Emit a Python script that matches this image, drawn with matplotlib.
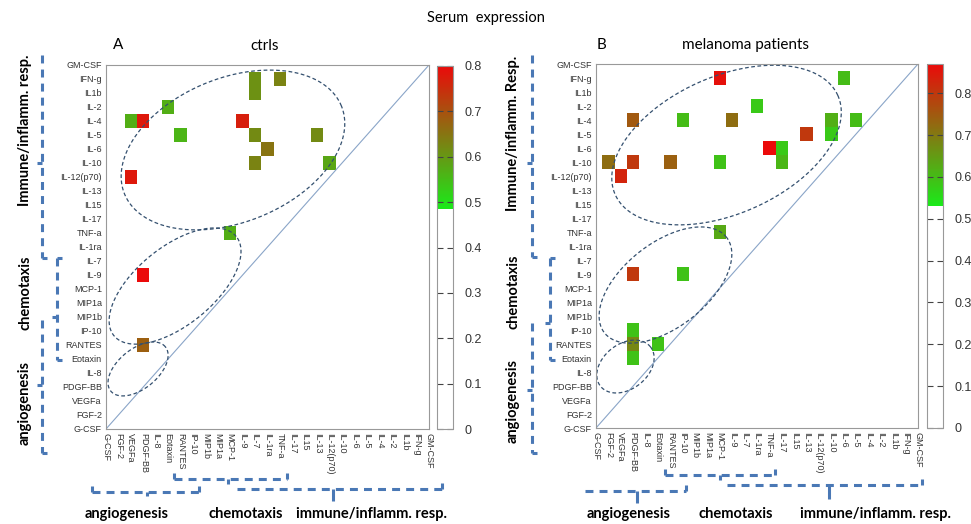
import numpy as np
import matplotlib
matplotlib.use('Agg')
import matplotlib.pyplot as plt
from matplotlib.colors import ListedColormap
from matplotlib.lines import Line2D

plt.rcParams['font.family'] = ['Liberation Sans', 'DejaVu Sans']

cytokines = ['G-CSF', 'FGF-2', 'VEGFa', 'PDGF-BB', 'IL-8', 'Eotaxin', 'RANTES', 'IP-10',
             'MIP1b', 'MIP1a', 'MCP-1', 'IL-9', 'IL-7', 'IL-1ra', 'TNF-a', 'IL-17', 'IL15',
             'IL-13', 'IL-12(p70)', 'IL-10', 'IL-6', 'IL-5', 'IL-4', 'IL-2', 'IL1b', 'IFN-g',
             'GM-CSF']

# significant correlations, controls: row cytokine, column cytokine, r
ctrl_rows = ['IFN-g', 'IL1b', 'IFN-g', 'IL-2', 'IL-4', 'IL-4', 'IL-4', 'IL-5', 'IL-5', 'IL-5',
             'IL-6', 'IL-10', 'IL-10', 'IL-12(p70)', 'TNF-a', 'IL-9', 'RANTES']
ctrl_cols = ['IL-7', 'IL-7', 'TNF-a', 'Eotaxin', 'VEGFa', 'PDGF-BB', 'IL-9', 'RANTES', 'IL-7',
             'IL-13', 'IL-1ra', 'IL-7', 'IL-12(p70)', 'VEGFa', 'MCP-1', 'PDGF-BB', 'PDGF-BB']
ctrl_r = [0.61, 0.61, 0.63, 0.57, 0.57, 0.78, 0.77, 0.56, 0.62, 0.62, 0.65, 0.63, 0.58,
          0.78, 0.57, 0.80, 0.68]

# melanoma patients
mel_rows = ['IFN-g', 'IFN-g', 'IL-2', 'IL-4', 'IL-4', 'IL-4', 'IL-4', 'IL-4', 'IL-5', 'IL-5',
            'IL-6', 'IL-6', 'IL-10', 'IL-10', 'IL-10', 'IL-10', 'IL-10', 'IL-12(p70)', 'TNF-a',
            'IL-9', 'IL-9', 'IP-10', 'RANTES', 'Eotaxin', 'RANTES']
mel_cols = ['MCP-1', 'IL-6', 'IL-1ra', 'PDGF-BB', 'IP-10', 'IL-9', 'IL-10', 'IL-5', 'IL-13',
            'IL-10', 'TNF-a', 'IL-17', 'IL-17', 'FGF-2', 'PDGF-BB', 'RANTES', 'MCP-1', 'VEGFa',
            'MCP-1', 'PDGF-BB', 'IP-10', 'PDGF-BB', 'PDGF-BB', 'PDGF-BB', 'Eotaxin']
mel_r = [0.86, 0.60, 0.58, 0.75, 0.60, 0.72, 0.62, 0.60, 0.80, 0.58, 0.88, 0.58, 0.61, 0.72,
         0.80, 0.74, 0.59, 0.83, 0.63, 0.80, 0.59, 0.59, 0.68, 0.59, 0.59]

W, H = 971, 524
fig = plt.figure(figsize=(W / 100, H / 100), dpi=100)


def fx(x):
    return x / W


def fy(y):
    return 1 - y / H


def make_cmap(thr, vmax):
    v = np.linspace(0, vmax, 512)
    f = np.clip((v - thr) / (vmax - thr), 0, 1)
    green = np.array([0.10, 0.92, 0.10])
    red = np.array([0.92, 0.04, 0.04])
    cols = green[None, :] * (1 - f[:, None]) + red[None, :] * f[:, None]
    cols[v < thr] = 1.0
    return ListedColormap(cols)


def ellipse(ax, cx, cy, a, b, ang, k):
    t = np.linspace(0, 2 * np.pi, 300)
    th = np.radians(ang)
    u = a * np.cos(t) * np.cos(th) - b * np.sin(t) * np.sin(th)
    v = a * np.cos(t) * np.sin(th) + b * np.sin(t) * np.cos(th)
    ax.plot(cx + u, cy + v * k, color='#34506f', lw=0.9, ls=(0, (3, 2)), clip_on=False)


def panel(rect, crect, rows, cols, vals, thr, vmax, ells):
    ax = fig.add_axes(rect)
    n = len(cytokines)
    M = np.zeros((n, n))
    for r, c, v in zip(rows, cols, vals):
        M[cytokines.index(r), cytokines.index(c)] = v
    edges = np.arange(n + 1) - 0.5
    mesh = ax.pcolormesh(edges, edges, M, cmap=make_cmap(thr, vmax), vmin=0, vmax=vmax)
    ax.plot([0, n - 1], [0, n - 1], color='#8aa5c8', lw=0.8)
    ax.set_xlim(0, n - 1)
    ax.set_ylim(0, n - 1)
    ax.set_xticks(range(n))
    ax.set_yticks(range(n))
    ax.set_xticklabels(cytokines, rotation=270, fontsize=6.5, color='#333333', va='top')
    ax.set_yticklabels(cytokines, fontsize=6.5, color='#333333')
    ax.tick_params(length=0, pad=3)
    for s in ax.spines.values():
        s.set_color('#999999')
    fig.canvas.draw()
    bb = ax.get_window_extent()
    k = bb.width / bb.height
    for e in ells:
        ellipse(ax, *e, k)

    cax = fig.add_axes(crect)
    cb = fig.colorbar(mesh, cax=cax, ticks=np.arange(0, 0.81, 0.1))
    cb.ax.set_yticklabels(['0' if t == 0 else f'{t:.1f}' for t in np.arange(0, 0.81, 0.1)])
    cb.outline.set_edgecolor('#999999')
    cax.tick_params(direction='in', left=True, right=True, length=4, width=0.8,
                    color='#444444', labelsize=9, labelcolor='#333333', pad=8)
    return ax


panel([fx(106), fy(429), 323 / W, 364 / H], [fx(437), fy(429), 16 / W, 363 / H],
      ctrl_rows, ctrl_cols, ctrl_r, 0.485, 0.80,
      [(10.22, 19.93, 9.42, 5.8, 22), (5.56, 10.21, 6.34, 3.14, 39), (2.58, 4.29, 2.83, 1.6, 39)])
panel([fx(596), fy(428), 322 / W, 364 / H], [fx(927), fy(428), 16 / W, 364 / H],
      mel_rows, mel_cols, mel_r, 0.53, 0.87,
      [(10.54, 20.21, 9.84, 5.53, 24), (5.61, 10.21, 6.26, 3.4, 38), (2.38, 4.39, 2.57, 1.82, 38)])

# titles
fig.text(fx(486), fy(18), 'Serum  expression', fontsize=10.5, ha='center', va='center',
         family=['Lato', 'DejaVu Sans'])
fig.text(fx(118), fy(45), 'A', fontsize=11, ha='center', va='center', family=['Lato', 'DejaVu Sans'])
fig.text(fx(265), fy(46), 'ctrls', fontsize=11, ha='center', va='center', family=['Lato', 'DejaVu Sans'])
fig.text(fx(601), fy(45), 'B', fontsize=11, ha='center', va='center', family=['Lato', 'DejaVu Sans'])
fig.text(fx(745), fy(45), 'melanoma patients', fontsize=11, ha='center', va='center',
         family=['Lato', 'DejaVu Sans'])

BLUE = '#4a78b5'
DASH = (0, (2.6, 2.0))


def seg(x0, y0, x1, y1, ls='-'):
    fig.add_artist(Line2D([fx(x0), fx(x1)], [fy(y0), fy(y1)], transform=fig.transFigure,
                          color=BLUE, lw=2.2, ls=ls, solid_capstyle='butt'))


def vbracket(x, y0, y1, ym, top=False, bot=True):
    seg(x, y0, x, y1, DASH)
    if top:
        seg(x, y0, x + 5, y0)
    if bot:
        seg(x, y1, x + 5, y1)
    seg(x, ym, x - 5, ym)


def hbracket(y, x0, x1, xm, stem, left=False):
    seg(x0, y, x1, y, DASH)
    if left:
        seg(x0, y, x0, y - 6)
    seg(x1, y, x1, y - 6)
    seg(xm, y, xm, y + stem)


def label(x, y, s, rot=0):
    fig.text(fx(x), fy(y), s, fontsize=10.5, fontweight='bold', rotation=rot, ha='center',
             va='center', family=['Lato', 'DejaVu Sans'])


# side brackets and group names
vbracket(42, 55, 258, 163)
vbracket(57, 258, 360, 317, top=True)
vbracket(42, 320, 453, 385)
label(25, 130, 'Immune/inflamm. resp.', 90)
label(25, 293, 'chemotaxis', 90)
label(25, 403, 'angiogenesis', 90)

vbracket(532, 55, 257, 163)
vbracket(550, 258, 360, 323, top=True)
vbracket(532, 323, 453, 390)
label(513, 133, 'Immune/inflamm. Resp.', 90)
label(513, 292, 'chemotaxis', 90)
label(513, 401, 'angiogenesis', 90)

# bottom brackets and group names
hbracket(479, 174, 287, 228, 5, left=True)
hbracket(492, 92, 199, 147, 4, left=True)
hbracket(489, 237, 442, 333, 12)
label(127, 514, 'angiogenesis')
label(246, 514, 'chemotaxis')
label(372, 514, 'immune/inflamm. resp.')

hbracket(475, 665, 775, 720, 5, left=True)
hbracket(491, 585, 686, 637, 12)
hbracket(485, 727, 922, 829, 14)
label(629, 514, 'angiogenesis')
label(736, 514, 'chemotaxis')
label(875, 514, 'immune/inflamm. resp.')

fig.savefig('out.png', dpi=100)
